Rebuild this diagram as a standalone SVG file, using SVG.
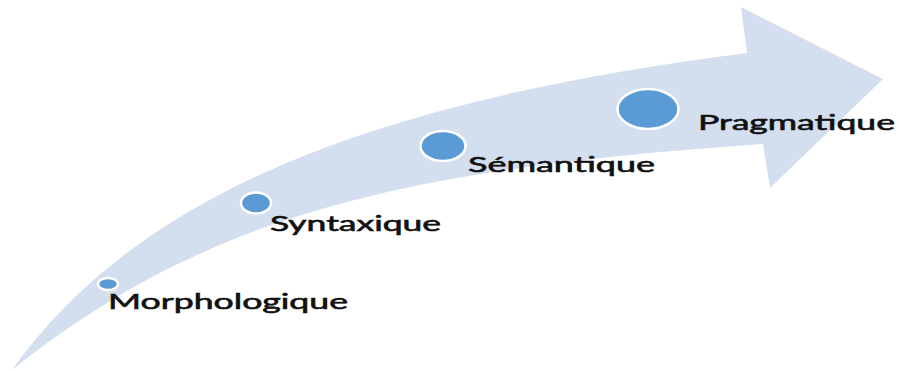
<svg xmlns="http://www.w3.org/2000/svg" width="900" height="373" viewBox="0 0 900 373">
  <style>
    .band { fill: #d3deef; stroke: none; }
    .dot { fill: #5b9bd5; stroke: #ffffff; stroke-width: 2.5; }
    .lbl { font-family: "Lato", "Open Sans", "Liberation Sans", sans-serif; font-size: 22px; fill: #111111; stroke: #111111; stroke-width: 0.6; }
  </style>
  <rect width="900" height="373" fill="#ffffff"/>
  <g id="connectors">
    <path id="arrow" class="band" d="M12,370 C140,190 380,100 747,53 L741,7 L883,79 L770,188 L763,144 C413,168.5 212,210 12,370 Z"/>
  </g>
  <g id="node-morphologique">
    <ellipse class="dot" cx="108" cy="284" rx="10" ry="6"/>
    <text class="lbl" x="108" y="309" textLength="240" lengthAdjust="spacingAndGlyphs">Morphologique</text>
  </g>
  <g id="node-syntaxique">
    <ellipse class="dot" cx="256" cy="203" rx="15" ry="10.5"/>
    <text class="lbl" x="270" y="231" textLength="171" lengthAdjust="spacingAndGlyphs">Syntaxique</text>
  </g>
  <g id="node-semantique">
    <ellipse class="dot" cx="443" cy="146" rx="22.5" ry="15"/>
    <text class="lbl" x="468" y="172" textLength="187" lengthAdjust="spacingAndGlyphs">Sémantique</text>
  </g>
  <g id="node-pragmatique">
    <ellipse class="dot" cx="648" cy="109" rx="30.5" ry="20"/>
    <text class="lbl" x="698" y="130" textLength="197" lengthAdjust="spacingAndGlyphs">Pragmatique</text>
  </g>
</svg>
